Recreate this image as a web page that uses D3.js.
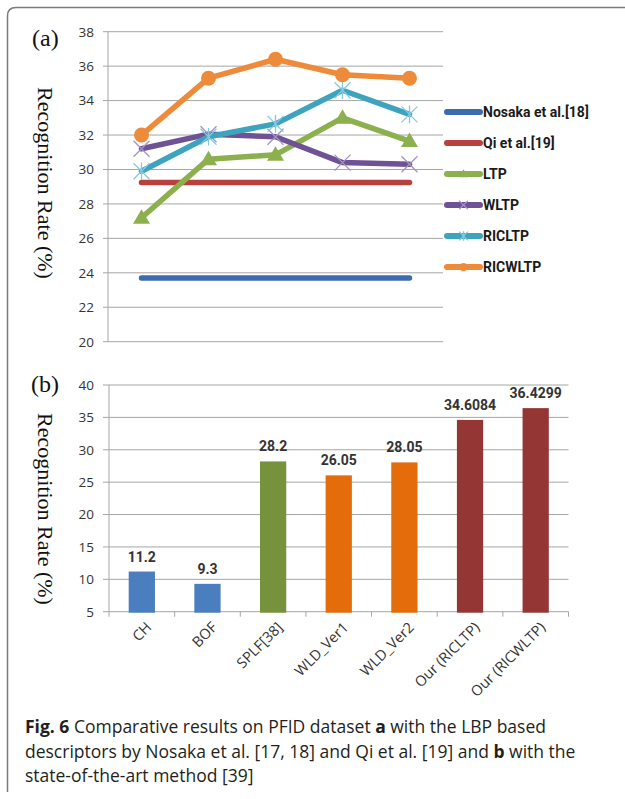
<!DOCTYPE html>
<html><head><meta charset="utf-8">
<script src="https://cdn.jsdelivr.net/npm/d3@7"></script>
<style>
html,body{margin:0;padding:0;background:#fff;}
svg{display:block;}
</style></head>
<body>
<svg id="c" width="625" height="799"></svg>
<script>
// ---------- DATA ----------
const seriesNames = ["Nosaka et al.[18]", "Qi et al.[19]", "LTP", "WLTP", "RICLTP", "RICWLTP"];
const lineSteps = [1, 2, 3, 4, 5];
const nosakaVals = [23.7, 23.7, 23.7, 23.7, 23.7];
const qiVals = [29.25, 29.25, 29.25, 29.25, 29.25];
const ltpVals = [27.2, 30.6, 30.85, 33.0, 31.65];
const wltpVals = [31.2, 32.05, 31.9, 30.4, 30.3];
const ricltpVals = [29.9, 31.9, 32.65, 34.6, 33.2];
const ricwltpVals = [32.0, 35.3, 36.4, 35.5, 35.3];
const lineTicks = [20, 22, 24, 26, 28, 30, 32, 34, 36, 38];

const barCats = ["CH", "BOF", "SPLF[38]", "WLD_Ver1", "WLD_Ver2", "Our (RICLTP)", "Our (RICWLTP)"];
const barVals = [11.2, 9.3, 28.2, 26.05, 28.05, 34.6084, 36.4299];
const barLabels = ["11.2", "9.3", "28.2", "26.05", "28.05", "34.6084", "36.4299"];
const barTicks = [5, 10, 15, 20, 25, 30, 35, 40];

// ---------- STYLE ----------
const lineColors = ["#3d6cae", "#b8403d", "#8db04e", "#6f5295", "#3ea3bd", "#ee8b3a"];
const markerColors = [null, null, "#8db04e", "#a493c6", "#86c9df", "#ee8b3a"];
const markers = [null, null, "tri", "x", "star", "circle"];
const barColors = ["#4a7ebe", "#4a7ebe", "#76923c", "#e46c0a", "#e46c0a", "#943634", "#943634"];
const gridColor = "#a6a6a6";
const tickFont = "Open Sans, Noto Sans, sans-serif";

const svg = d3.select("#c");

// frame
svg.append("path")
  .attr("d", "M7.5,792 L7.5,16 Q7.5,7.5 16,7.5 L640,7.5")
  .attr("fill", "none").attr("stroke", "#7a7a7a").attr("stroke-width", 1.5);

// ================= CHART A =================
const ax = d3.scaleBand().domain(lineSteps).range([108, 443]);
const ay = d3.scaleLinear().domain([20, 38]).range([341.7, 31.7]);
const gA = svg.append("g");

gA.append("g").selectAll("line").data(lineTicks).join("line")
  .attr("x1", 103).attr("x2", 443)
  .attr("y1", d => ay(d)).attr("y2", d => ay(d))
  .attr("stroke", gridColor).attr("stroke-width", 1);

gA.append("line").attr("x1", 108).attr("x2", 108)
  .attr("y1", ay(38)).attr("y2", ay(20)).attr("stroke", gridColor).attr("stroke-width", 1);

const yAxisA = d3.axisLeft(ay).tickValues(lineTicks).tickSize(0).tickPadding(14);
const gAxA = gA.append("g").attr("transform", "translate(108,0)").call(yAxisA);
gAxA.select(".domain").remove();
gAxA.selectAll("text").attr("font-family", tickFont).attr("font-size", 13.5).attr("fill", "#333");

const allSeries = [nosakaVals, qiVals, ltpVals, wltpVals, ricltpVals, ricwltpVals];
const cx = i => ax(lineSteps[i]) + ax.bandwidth() / 2;
const lineGen = d3.line().x((d, i) => cx(i)).y(d => ay(d));

function drawMarker(g, type, x, y, col, s) {
  if (type === "tri") {
    g.append("path").attr("d", `M${x},${y - 8.5*s} L${x + 8.5*s},${y + 6*s} L${x - 8.5*s},${y + 6*s} Z`)
      .attr("fill", col);
  } else if (type === "circle") {
    g.append("circle").attr("cx", x).attr("cy", y).attr("r", 7.5*s).attr("fill", col);
  } else if (type === "x" || type === "star") {
    const r = 8*s;
    g.append("path").attr("d", `M${x - r},${y - r} L${x + r},${y + r} M${x - r},${y + r} L${x + r},${y - r}` +
      (type === "star" ? ` M${x},${y - r*1.1} L${x},${y + r*1.1}` : ""))
      .attr("stroke", col).attr("stroke-width", 1.3).attr("fill", "none");
  }
}

allSeries.forEach((vals, k) => {
  gA.append("path").datum(vals).attr("d", lineGen)
    .attr("fill", "none").attr("stroke", lineColors[k]).attr("stroke-width", 5.5)
    .attr("stroke-linecap", "round").attr("stroke-linejoin", "round");
  if (markers[k]) {
    const mg = gA.append("g");
    vals.forEach((v, i) => drawMarker(mg, markers[k], cx(i), ay(v), markerColors[k], 1));
  }
});

// legend
const lg = svg.append("g");
seriesNames.forEach((name, k) => {
  const y = 112 + 31 * k;
  lg.append("line").attr("x1", 447).attr("x2", 480).attr("y1", y).attr("y2", y)
    .attr("stroke", lineColors[k]).attr("stroke-width", 6).attr("stroke-linecap", "round");
  if (markers[k]) drawMarker(lg, markers[k], 463.5, y, markerColors[k], 0.55);
  lg.append("text").attr("x", 483).attr("y", y + 5).text(name)
    .attr("font-family", "Roboto, Open Sans, sans-serif").attr("font-weight", "bold")
    .attr("font-size", 14).attr("fill", "#1a1a1a");
});

// titles A
svg.append("text").attr("x", 32).attr("y", 46).text("(a)")
  .attr("font-family", "Liberation Serif, Times New Roman, serif").attr("font-size", 24).attr("fill", "#111");
svg.append("text").attr("transform", "translate(38,183) rotate(90)").attr("text-anchor", "middle")
  .text("Recognition Rate (%)")
  .attr("font-family", "Liberation Serif, Times New Roman, serif").attr("font-size", 22).attr("fill", "#111");

// ================= CHART B =================
const bx = d3.scaleBand().domain(barCats).range([109, 568.5]).paddingInner(0.6).paddingOuter(0.3);
const by = d3.scaleLinear().domain([5, 40]).range([611.7, 385]);
const gB = svg.append("g");

gB.append("g").selectAll("line").data(barTicks).join("line")
  .attr("x1", 103).attr("x2", 568.5)
  .attr("y1", d => by(d)).attr("y2", d => by(d))
  .attr("stroke", gridColor).attr("stroke-width", 1);
gB.append("line").attr("x1", 109).attr("x2", 109)
  .attr("y1", by(40)).attr("y2", by(5)).attr("stroke", gridColor).attr("stroke-width", 1);

const yAxisB = d3.axisLeft(by).tickValues(barTicks).tickSize(0).tickPadding(15);
const gAxB = gB.append("g").attr("transform", "translate(109,0)").call(yAxisB);
gAxB.select(".domain").remove();
gAxB.selectAll("text").attr("font-family", tickFont).attr("font-size", 13.5).attr("fill", "#333");

// category boundary ticks
gB.append("g").selectAll("line").data(d3.range(barCats.length + 1)).join("line")
  .attr("x1", i => 109 + i * bx.step()).attr("x2", i => 109 + i * bx.step())
  .attr("y1", by(5)).attr("y2", by(5) + 5)
  .attr("stroke", gridColor).attr("stroke-width", 1);

gB.append("g").selectAll("rect").data(barCats).join("rect")
  .attr("x", d => bx(d)).attr("width", bx.bandwidth())
  .attr("y", (d, i) => by(barVals[i])).attr("height", (d, i) => by(5) - by(barVals[i]) + 1)
  .attr("fill", (d, i) => barColors[i]);

gB.append("g").selectAll("text").data(barCats).join("text")
  .attr("x", d => bx(d) + bx.bandwidth() / 2).attr("y", (d, i) => by(barVals[i]) - 10)
  .attr("text-anchor", "middle").text((d, i) => barLabels[i])
  .attr("font-family", "Roboto, Open Sans, sans-serif").attr("font-weight", "bold")
  .attr("font-size", 14).attr("fill", "#333");

gB.append("g").selectAll("text").data(barCats).join("text")
  .attr("transform", d => `translate(${bx(d) + bx.bandwidth() / 2 + 7},${by(5) + 13}) rotate(-45)`)
  .attr("text-anchor", "end").attr("dy", "0.35em").text(d => d)
  .attr("font-family", tickFont).attr("font-size", 14.5).attr("fill", "#333");

svg.append("text").attr("x", 31).attr("y", 392).text("(b)")
  .attr("font-family", "Liberation Serif, Times New Roman, serif").attr("font-size", 24).attr("fill", "#111");
svg.append("text").attr("transform", "translate(38,509) rotate(90)").attr("text-anchor", "middle")
  .text("Recognition Rate (%)")
  .attr("font-family", "Liberation Serif, Times New Roman, serif").attr("font-size", 22).attr("fill", "#111");

// ================= CAPTION =================
const capLines = [
  [["Fig. 6", true], [" Comparative results on PFID dataset ", false], ["a", true], [" with the LBP based", false]],
  [["descriptors by Nosaka et al. [17, 18] and Qi et al. [19] and ", false], ["b", true], [" with the", false]],
  [["state-of-the-art method [39]", false]]
];
const capY = [733, 758, 782];
const cap = svg.append("g");
capLines.forEach((parts, li) => {
  const t = cap.append("text").attr("x", 25).attr("y", capY[li])
    .attr("font-family", "Open Sans, Noto Sans, sans-serif").attr("font-size", 16).attr("fill", "#231f20");
  parts.forEach(p => t.append("tspan").text(p[0]).attr("font-weight", p[1] ? "bold" : "normal"));
});
const first = cap.select("text").node();
const w = first.getComputedTextLength();
const fs = 16 * 521 / w;
cap.selectAll("text").attr("font-size", fs);
</script>
</body></html>
